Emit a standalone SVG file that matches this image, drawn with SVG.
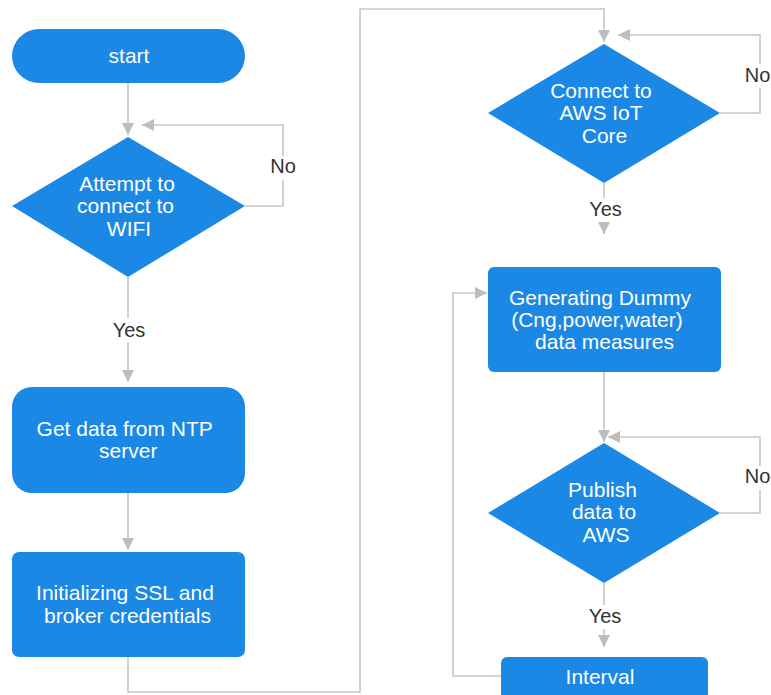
<svg xmlns="http://www.w3.org/2000/svg" width="771" height="695" viewBox="0 0 771 695">
<style>
.node{fill:#1b88e5;}
.t{font-family:"Liberation Sans",Arial,sans-serif;font-size:21px;fill:#ffffff;text-anchor:middle;}
.lbl{font-family:"Liberation Sans",Arial,sans-serif;font-size:20px;fill:#333333;text-anchor:middle;}
.c{fill:none;stroke:#c6c6c6;stroke-width:1.6;}
.bg{fill:#ffffff;}
</style>
<defs>
<marker id="ah" markerUnits="userSpaceOnUse" markerWidth="13" markerHeight="13" refX="12" refY="6" orient="auto">
<path d="M0,0 L12,6 L0,12 z" fill="#bdbdbd"/>
</marker>
</defs>
<rect width="771" height="695" fill="#ffffff"/>
<g id="connectors">
<path class="c" d="M128,83 V135" marker-end="url(#ah)"/>
<path class="c" d="M245,206 H283 V125 H142" marker-end="url(#ah)"/>
<path class="c" d="M128,277 V382" marker-end="url(#ah)"/>
<path class="c" d="M128,493 V550" marker-end="url(#ah)"/>
<path class="c" d="M128,657 V692 H360 V9 H604 V42" marker-end="url(#ah)"/>
<path class="c" d="M720,113 H760 V35 H618" marker-end="url(#ah)"/>
<path class="c" d="M604,183 V234" marker-end="url(#ah)"/>
<path class="c" d="M604,372 V442" marker-end="url(#ah)"/>
<path class="c" d="M720,513 H760 V437 H608" marker-end="url(#ah)"/>
<path class="c" d="M604,583 V647" marker-end="url(#ah)"/>
<path class="c" d="M501,676 H453 V293 H487" marker-end="url(#ah)"/>
<rect class="bg" x="266" y="156" width="34" height="24"/>
<text class="lbl" x="283" y="172.5">No</text>
<rect class="bg" x="108" y="318" width="40" height="24"/>
<text class="lbl" x="129" y="337">Yes</text>
<rect class="bg" x="741" y="64" width="34" height="24"/>
<text class="lbl" x="757.5" y="81.5">No</text>
<rect class="bg" x="584" y="198" width="42" height="24"/>
<text class="lbl" x="605.5" y="216">Yes</text>
<rect class="bg" x="741" y="466" width="34" height="24"/>
<text class="lbl" x="757.5" y="482.5">No</text>
<rect class="bg" x="584" y="605" width="42" height="24"/>
<text class="lbl" x="605" y="622.5">Yes</text>
</g>
<g id="start">
<rect class="node" x="12" y="29" width="233" height="54" rx="27" ry="27"/>
<text class="t" x="129" y="63">start</text>
</g>
<g id="wifi">
<polygon class="node" points="128,137 245,206 128,277 12,206"/>
<text class="t" x="127" y="191">Attempt to</text>
<text class="t" x="125.5" y="213">connect to</text>
<text class="t" x="129" y="235.5">WIFI</text>
</g>
<g id="ntp">
<rect class="node" x="12" y="387" width="233" height="106" rx="20" ry="20"/>
<text class="t" x="124.7" y="436">Get data from NTP</text>
<text class="t" x="128.3" y="458">server</text>
</g>
<g id="ssl">
<rect class="node" x="12" y="552" width="233" height="105" rx="7" ry="7"/>
<text class="t" x="125" y="600">Initializing SSL and</text>
<text class="t" x="127.5" y="622.5">broker credentials</text>
</g>
<g id="aws">
<polygon class="node" points="604,44 720,113 604,183 488,113"/>
<text class="t" x="601" y="97.5">Connect to</text>
<text class="t" x="601" y="120">AWS IoT</text>
<text class="t" x="604.5" y="142.5">Core</text>
</g>
<g id="dummy">
<rect class="node" x="488" y="267" width="233" height="105" rx="6" ry="6"/>
<text class="t" x="600" y="305">Generating Dummy</text>
<text class="t" x="597" y="327">(Cng,power,water)</text>
<text class="t" x="604.5" y="349">data measures</text>
</g>
<g id="publish">
<polygon class="node" points="604,443 720,513 604,583 488,513"/>
<text class="t" x="602.5" y="496.5">Publish</text>
<text class="t" x="604" y="519">data to</text>
<text class="t" x="606" y="541.5">AWS</text>
</g>
<g id="interval">
<rect class="node" x="501" y="657" width="207" height="46" rx="6" ry="6"/>
<text class="t" x="600" y="684">Interval</text>
</g>
</svg>
